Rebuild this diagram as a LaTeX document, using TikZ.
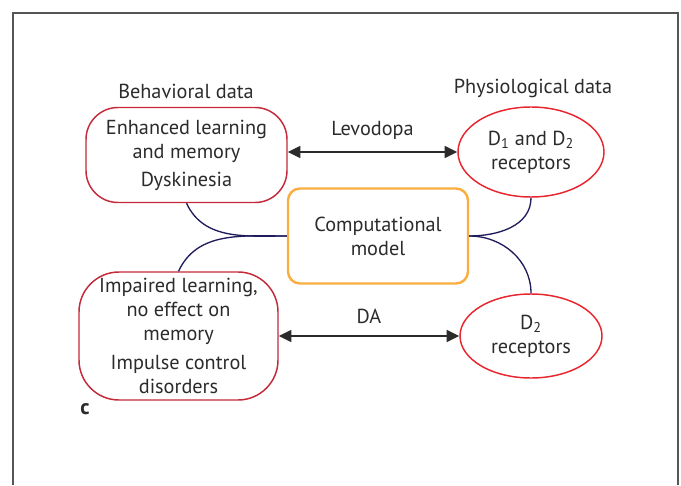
\documentclass[tikz,border=0pt]{standalone}
\usepackage{fontspec}
\setmainfont{PT Sans}
\usepackage{xcolor}
\definecolor{boxred}{HTML}{C42A3A}
\definecolor{ellred}{HTML}{E8262F}
\definecolor{modorange}{HTML}{F9AE3F}
\definecolor{linknavy}{HTML}{1F1C5C}
\definecolor{textgray}{HTML}{2B2B2B}
\definecolor{framegray}{HTML}{555555}
\usetikzlibrary{shapes.geometric, arrows.meta, positioning}
\tikzset{
  databox/.style ={rectangle, rounded corners=24pt, draw=boxred, line width=1.1pt, fill=white,
                   text=textgray, align=center, inner sep=0pt, font=\fontsize{15.2}{18}\selectfont},
  dataell/.style ={ellipse, draw=ellred, line width=1.1pt, fill=white, text=textgray, align=center,
                   inner sep=0pt, font=\fontsize{15.2}{18}\selectfont},
  modbox/.style  ={rectangle, rounded corners=9pt, draw=modorange, line width=1.8pt, fill=white,
                   text=textgray, align=center, inner sep=0pt, font=\fontsize{15.2}{18}\selectfont},
  hdr/.style     ={text=textgray, font=\fontsize{15.2}{18}\selectfont, inner sep=0pt},
  darr/.style    ={{Triangle[length=9.5pt,width=9pt]}-{Triangle[length=9.5pt,width=9pt]}, line width=1.1pt, color=textgray},
  mlink/.style   ={line width=1pt, color=linknavy},
  dlbl/.style    ={text=textgray, font=\fontsize{15.2}{18}\selectfont, inner sep=0pt},
}

\begin{document}
\begin{tikzpicture}[x=0.75pt, y=-0.75pt]
  \useasboundingbox (0,0) rectangle (681,485);
  \draw[framegray, line width=1pt] (13,485) -- (13,13) -- (678,13) -- (678,485);

  \node[databox, minimum width=150.75pt, minimum height=71.25pt] (behav) at (186.5,155)
    {Enhanced learning\\and memory\\[3pt]Dyskinesia};
  \node[dataell, minimum width=109.5pt, minimum height=67.5pt] (phys1) at (531,152)
    {D\textsubscript{1} and D\textsubscript{2}\\receptors};
  \node[modbox, minimum width=135pt, minimum height=71.25pt] (model) at (378,236)
    {Computational\\model};
  \node[databox, rounded corners=30pt, minimum width=149.25pt, minimum height=96pt] (behav2) at (178.5,336)
    {Impaired learning,\\no effect on\\memory\\[4pt]Impulse control\\disorders};
  \node[dataell, minimum width=106.5pt, minimum height=63pt] (phys2) at (531,336)
    {D\textsubscript{2}\\receptors};

  \node[hdr] (behavhdr) at (186,91) {Behavioral data};
  \node[hdr] (physhdr) at (533,88) {Physiological data};
  \node[hdr, font=\fontsize{16}{18}\selectfont\bfseries] (panel) at (85,409) {c};

  % data links
  \draw[darr] (behav.east |- phys1.west) -- node[dlbl, above=9pt] (levo) {Levodopa} (phys1.west);
  \draw[darr] (behav2.east) -- node[dlbl, above=9pt] (da) {DA} (phys2.west);

  % model links
  \draw[mlink] (behav.south) to[out=-65, in=180] (model.west);
  \draw[mlink] (behav2.north) to[out=65, in=180] (model.west);
  \draw[mlink] (phys1.south) to[out=-90, in=0] (model.east);
  \draw[mlink] (model.east) to[out=0, in=90] (phys2.north);
\end{tikzpicture}
\end{document}
